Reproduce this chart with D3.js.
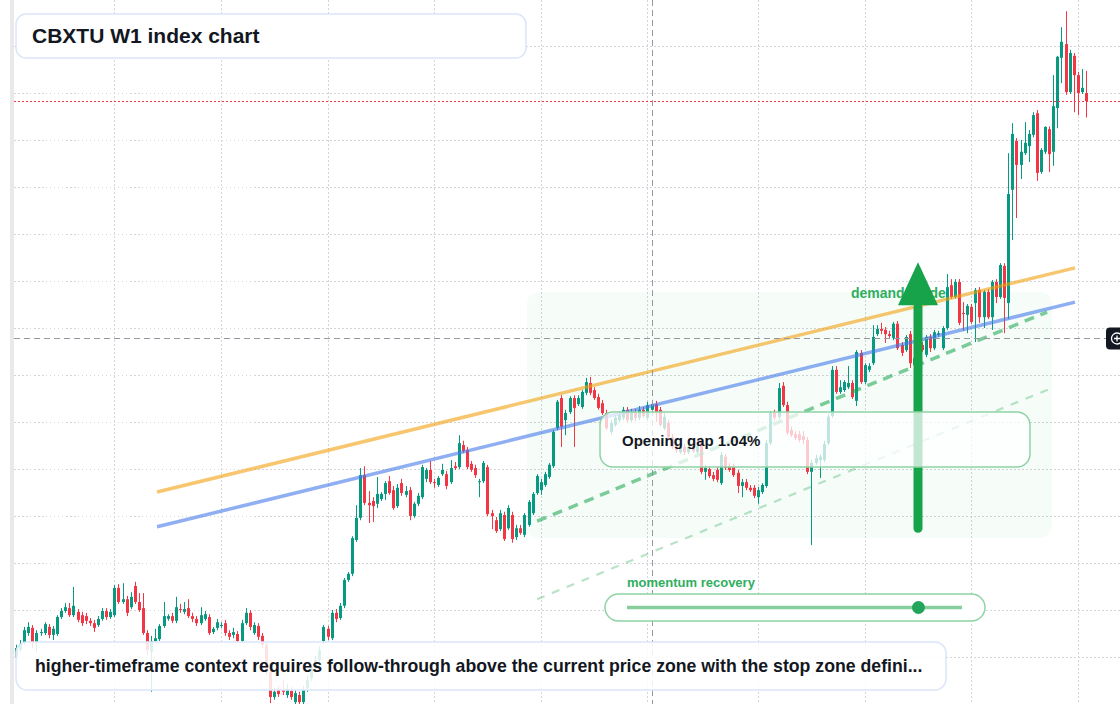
<!DOCTYPE html>
<html>
<head>
<meta charset="utf-8">
<script src="https://cdn.jsdelivr.net/npm/d3@7"></script>
<style>
html, body { margin: 0; padding: 0; background: #fff; overflow: hidden; }
svg { display: block; font-family: "Liberation Sans", Arial, Helvetica, sans-serif; }
</style>
</head>
<body>
<div id="chart"></div>
<script>
// weekly candles, index points
var candleOpen = [
10.0,11.5,13.2,15.1,16.2,13.2,15.1,15.1,16.4,14.7, 14.9,18.5,19.8,20.4,18.9,19.6,18.9,18.7,17.7,17.2,
16.8,18.1,19.8,18.5,18.9,24.7,21.7,22.3,20.6,25.1, 21.7,20.4,15.1,11.1,13.4,13.8,16.6,18.1,18.7,17.7,
20.2,19.6,20.4,18.7,18.1,17.2,18.1,18.5,15.3,16.2, 16.6,17.2,15.1,14.7,14.9,13.4,17.2,19.4,15.1,16.6,
14.5,12.6,6.8,1.5,3.0,3.0,1.9,2.8,0.4,1.9, 0.4,3.4,5.5,7.7,9.4,13.4,16.0,14.0,19.4,18.3,
20.9,26.4,27.7,34.9,39.6,48.7,42.8,43.2,42.6,43.6, 44.7,47.4,45.5,42.1,47.0,44.5,45.5,40.0,42.6,44.0,
47.9,49.8,47.2,46.6,48.9,48.9,47.2,50.6,50.4,55.1, 54.0,51.1,50.2,47.2,47.4,50.4,40.6,39.1,37.2,40.2,
37.4,40.2,35.5,37.4,36.0,38.1,40.6,44.9,45.5,46.6, 48.3,50.6,58.7,65.1,60.4,62.1,65.1,63.8,63.2,66.2,
68.3,66.8,65.3,64.0,61.9,57.9,59.4,60.4,60.9,62.6, 60.4,62.1,60.9,62.6,60.9,62.6,63.8,62.6,58.7,59.8,
56.8,55.1,53.6,54.7,53.6,54.9,53.6,56.2,49.4,50.0, 48.7,49.8,47.0,52.6,50.6,50.4,49.2,46.4,47.2,46.0,
46.0,44.0,45.1,46.4,55.5,61.9,61.1,67.7,63.6,58.3, 57.4,57.4,57.0,56.2,49.4,51.3,51.9,51.9,55.5,61.3,
71.1,66.4,66.8,67.4,68.3,64.5,74.7,68.5,71.1,72.5, 78.7,79.8,79.6,78.7,77.9,80.9,76.4,75.3,78.7,72.1,
73.6,76.4,74.3,78.1,75.7,78.5,75.7,80.0,89.1,86.6, 89.8,83.2,82.8,84.5,85.3,88.1,82.3,87.7,82.3,89.8,
86.6,93.2,85.3,109.4,119.8,114.7,117.2,118.7,121.1,125.7, 113.2,117.5,122.3,117.5,126.8,137.5,140.4,130.2,137.9,133.8,
130.2,130.0
];
var candleHigh = [
12.6,13.6,16.4,17.4,16.8,15.7,16.0,17.4,17.0,16.6, 18.9,20.4,21.5,21.5,24.9,20.2,19.6,19.4,18.3,17.9,
18.7,20.4,20.4,20.2,25.3,25.5,25.7,23.0,23.8,26.0, 23.6,23.6,15.7,14.5,16.0,17.0,21.7,19.1,19.4,22.8,
21.3,21.7,22.3,19.4,18.7,20.6,19.8,19.1,16.4,18.1, 17.4,17.9,15.7,16.2,15.5,17.9,20.4,20.0,17.4,17.2,
15.1,13.2,7.7,3.4,3.8,5.1,4.3,3.6,3.0,2.6, 3.8,6.0,8.5,10.2,12.3,16.8,16.6,20.0,20.2,21.5,
26.8,28.1,35.7,42.3,50.2,50.6,45.3,44.0,48.3,45.1, 47.4,48.5,46.4,46.8,47.9,46.4,46.2,43.0,44.9,50.9,
50.2,51.7,47.9,48.5,51.1,49.6,51.9,51.5,57.2,56.0, 54.7,51.7,50.9,47.9,51.7,50.9,41.3,39.8,41.3,40.9,
42.3,40.9,38.1,38.1,40.6,43.4,45.1,48.9,47.9,49.4, 51.3,58.3,64.7,65.7,62.6,65.5,65.7,65.7,66.8,69.4,
69.6,67.4,66.0,64.7,62.6,60.4,61.5,62.1,63.2,63.2, 62.8,62.8,63.4,63.2,64.3,64.7,64.5,63.2,61.9,60.4,
57.4,55.7,55.3,55.3,55.5,55.5,55.7,56.8,50.9,50.6, 49.4,50.4,53.6,53.2,51.3,51.1,49.8,47.9,47.9,46.6,
46.6,46.2,47.0,56.2,62.3,62.6,68.3,68.5,64.3,59.0, 58.1,58.1,58.1,56.8,51.9,53.0,53.2,56.0,61.7,71.9,
71.9,68.9,68.9,71.9,68.9,75.3,75.3,72.5,72.5,80.6, 80.6,81.1,80.2,79.4,81.3,81.5,77.0,78.5,79.4,74.3,
76.8,77.0,78.5,78.7,79.6,79.4,80.4,91.5,90.4,90.4, 90.4,85.5,85.1,85.1,88.5,88.7,88.1,88.3,90.2,90.4,
93.8,93.8,117.2,123.6,120.4,120.0,123.8,122.1,125.9,126.4, 118.3,122.9,122.9,133.8,137.9,144.0,147.4,139.2,138.5,134.5,
135.1,134.7
];
var candleLow = [
9.4,11.1,12.6,14.5,11.9,11.1,14.5,14.7,14.0,13.6, 14.5,18.1,19.4,18.5,18.5,17.4,16.6,17.0,16.6,15.3,
16.4,17.7,17.9,18.1,18.5,21.3,21.3,18.7,20.2,21.3, 19.6,14.7,10.4,2.6,13.0,13.4,16.2,17.7,17.2,17.2,
19.4,19.1,18.3,17.4,16.6,16.8,17.7,14.7,14.9,15.7, 16.2,14.5,13.6,14.0,13.0,13.0,16.8,15.7,14.7,13.6,
11.9,6.2,0.2,0.9,1.5,1.9,1.3,0.9,0.0,0.0, 0.0,2.6,4.9,7.0,8.7,12.8,13.6,13.6,17.4,17.9,
20.4,26.0,27.2,34.5,39.1,42.3,38.5,38.7,41.7,43.2, 43.4,44.5,41.3,41.7,44.3,44.0,39.1,39.6,42.1,43.6,
47.2,46.8,46.0,46.2,48.5,45.7,46.8,49.8,50.0,53.4, 50.0,49.4,48.1,44.0,47.0,40.0,37.2,36.4,36.8,34.7,
37.0,34.3,34.9,36.0,35.5,37.7,40.2,44.5,44.5,46.2, 47.9,50.2,58.3,54.7,57.2,61.7,54.7,63.4,62.8,65.7,
65.7,64.7,62.6,61.5,58.3,57.4,59.0,60.0,60.4,59.8, 60.0,60.2,60.4,60.9,60.4,62.1,60.0,59.0,58.3,56.2,
54.3,53.4,53.2,53.0,53.2,53.4,53.2,48.9,47.7,48.1, 47.4,47.2,46.6,49.8,49.4,48.3,44.9,44.0,45.5,45.1,
43.8,42.6,44.7,46.0,55.1,60.4,60.6,63.2,57.2,56.8, 56.2,55.7,55.3,48.9,33.8,50.9,48.1,51.5,55.1,60.9,
66.0,66.0,66.4,67.0,64.9,63.4,68.1,68.1,70.6,72.1, 78.3,78.7,76.8,77.9,77.4,75.3,74.0,74.9,71.5,71.7,
73.2,74.9,73.8,74.9,75.3,78.1,75.3,79.6,86.2,86.2, 80.6,79.4,78.9,80.9,77.0,81.1,80.0,81.9,79.6,85.3,
86.2,78.9,81.9,98.7,103.4,111.7,116.8,115.3,120.6,111.3, 112.8,117.0,113.2,114.5,122.5,132.1,129.6,129.8,125.9,125.3,
129.8,124.8
];
var candleClose = [
11.9,12.8,15.7,16.4,13.2,15.1,15.3,17.0,14.7,16.0, 18.5,19.8,20.6,18.9,20.9,17.9,17.2,17.7,17.2,16.2,
18.1,19.8,18.5,19.6,24.7,21.7,22.3,19.4,22.8,21.7, 20.0,15.1,11.5,13.4,14.0,16.6,18.7,18.7,17.7,20.6,
20.0,20.2,18.7,18.1,17.2,18.9,19.1,15.1,16.0,17.4, 16.8,15.1,14.3,15.3,13.4,17.2,19.4,16.4,16.8,14.3,
12.6,6.8,1.5,2.6,2.1,2.6,3.0,1.5,2.3,0.4, 3.0,5.1,7.9,9.4,11.5,16.4,14.3,19.4,18.1,20.9,
26.4,27.7,35.3,39.6,48.7,42.8,42.3,42.1,44.7,44.7, 47.0,44.9,41.7,46.0,44.9,45.3,40.0,42.6,44.3,50.4,
49.8,47.2,47.0,48.1,49.8,46.4,50.2,50.2,55.5,53.8, 50.4,49.8,48.7,47.4,51.3,40.4,40.0,36.8,40.6,35.1,
41.7,35.1,37.4,36.4,40.2,43.0,44.7,48.5,47.2,48.9, 50.9,57.9,64.3,59.0,61.9,65.1,63.0,65.1,66.4,68.5,
66.2,65.1,63.0,61.9,58.7,59.8,60.9,61.5,62.6,60.4, 62.1,60.9,62.6,61.3,63.6,63.8,62.1,59.4,61.1,56.8,
54.7,54.0,54.7,53.6,54.7,53.8,54.9,49.4,50.2,48.5, 47.9,47.7,53.0,50.2,49.8,48.7,46.4,47.2,46.0,45.5,
44.3,45.5,46.6,55.5,61.9,60.9,67.2,63.6,57.7,57.2, 56.6,56.2,56.2,49.4,51.3,52.3,52.6,55.3,61.1,71.1,
66.4,67.4,68.5,68.3,65.3,74.9,68.5,72.1,71.9,78.1, 79.8,79.4,78.7,78.3,80.9,75.7,74.7,78.1,72.5,73.6,
76.4,75.3,78.1,75.7,79.1,78.9,80.0,88.7,86.6,89.8, 81.1,83.0,84.7,81.3,88.1,82.3,87.7,82.3,89.8,86.6,
93.4,86.4,108.5,121.3,114.7,117.5,119.4,121.3,125.3,113.0, 117.9,122.8,117.0,127.2,137.7,140.9,130.2,138.5,133.8,130.0,
131.1,128.3
];

var gridPrices = [10, 20, 30, 40, 50, 60, 70, 80, 90, 100, 110, 120, 130, 140];
var gridWeeks = [24, 50, 76, 102, 128, 154, 181, 207, 233, 259];

// drawings, [week index, price]
var resistanceLine = [[34.4, 45.1], [258.3, 92.8]];
var supportLine = [[34.4, 37.7], [258.3, 85.5]];
var channelMid = [[127.1, 38.9], [251.5, 83.4]];
var channelLow = [[127.1, 22.3], [252.0, 67.0]];
var demandZone = [124.6, 252.7, 35.3, 87.7]; // from, to, bottom, top
var targetArrow = [220, 37.4, 94.0];          // week, from price, to price
var crossWeek = 155;
var crossPrice = 77.9;
var momentumValue = 0.87;

var titleText = "CBXTU W1 index chart";
var gapText = "Opening gap 1.04%";
var zoneText = "demand guide";
var momentumText = "momentum recovery";
var noteText = "higher-timeframe context requires follow-through above the current price zone with the stop zone defini...";

var W = 1120, H = 704;
var upColor = "#089981", downColor = "#f23645";

var x = d3.scaleLinear().domain([0, 261]).range([16, 1086.1]);
var y = d3.scaleLinear().domain([0, 150]).range([704, -1]);

var svg = d3.select("#chart").append("svg").attr("width", W).attr("height", H);

svg.append("rect").attr("width", W).attr("height", H).attr("fill", "#ffffff");
svg.append("rect").attr("x", 10).attr("y", 0).attr("width", 4).attr("height", H).attr("fill", "#e9e9ea");

// grid
var grid = svg.append("g").attr("stroke", "#d3d5da").attr("stroke-width", 1)
    .attr("stroke-dasharray", "1.5 2.5").attr("shape-rendering", "crispEdges");
grid.selectAll("line.h").data(gridPrices).enter().append("line")
    .attr("x1", 14).attr("x2", W)
    .attr("y1", function(d){ return Math.round(y(d)) + 0.5; })
    .attr("y2", function(d){ return Math.round(y(d)) + 0.5; });
grid.selectAll("line.v").data(gridWeeks).enter().append("line")
    .attr("y1", 0).attr("y2", H)
    .attr("x1", function(d){ return Math.round(x(d)) + 0.5; })
    .attr("x2", function(d){ return Math.round(x(d)) + 0.5; });

// demand zone
svg.append("rect")
    .attr("x", x(demandZone[0])).attr("y", y(demandZone[3]))
    .attr("width", x(demandZone[1]) - x(demandZone[0]))
    .attr("height", y(demandZone[2]) - y(demandZone[3]))
    .attr("rx", 12)
    .attr("fill", "rgba(34,197,94,0.04)");

// candles
var candles = candleOpen.map(function(o, i){
    return { i: i, o: o, h: candleHigh[i], l: candleLow[i], c: candleClose[i] };
});
var cg = svg.append("g");
cg.selectAll("line").data(candles).enter().append("line")
    .attr("x1", function(d){ return Math.round(x(d.i)) + 0.5; })
    .attr("x2", function(d){ return Math.round(x(d.i)) + 0.5; })
    .attr("y1", function(d){ return y(Math.max(d.h, d.o, d.c)); })
    .attr("y2", function(d){ return y(Math.min(d.l, d.o, d.c)); })
    .attr("stroke", function(d){ return d.c >= d.o ? upColor : downColor; })
    .attr("stroke-width", 1);
cg.selectAll("rect").data(candles).enter().append("rect")
    .attr("x", function(d){ return Math.round(x(d.i)) - 1; })
    .attr("width", 3)
    .attr("y", function(d){ return y(Math.max(d.o, d.c)); })
    .attr("height", function(d){ return Math.max(1, Math.abs(y(d.o) - y(d.c))); })
    .attr("fill", function(d){ return d.c >= d.o ? upColor : downColor; });

// trend lines
var line = d3.line().x(function(d){ return x(d[0]); }).y(function(d){ return y(d[1]); });
svg.append("path").attr("d", line(resistanceLine)).attr("fill", "none")
    .attr("stroke", "#f2a00d").attr("stroke-opacity", 0.6).attr("stroke-width", 3.5);
svg.append("path").attr("d", line(supportLine)).attr("fill", "none")
    .attr("stroke", "#447ae9").attr("stroke-opacity", 0.6).attr("stroke-width", 3.5);
svg.append("path").attr("d", line(channelMid)).attr("fill", "none")
    .attr("stroke", "#16a34a").attr("stroke-opacity", 0.55).attr("stroke-width", 3.5)
    .attr("stroke-dasharray", "10 7");
svg.append("path").attr("d", line(channelLow)).attr("fill", "none")
    .attr("stroke", "#16a34a").attr("stroke-opacity", 0.3).attr("stroke-width", 2.2)
    .attr("stroke-dasharray", "8 8");

// last price
var lastY = Math.round(y(candleClose[candleClose.length - 1])) + 0.5;
svg.append("line").attr("x1", 14).attr("x2", W).attr("y1", lastY).attr("y2", lastY)
    .attr("stroke", "#f23645").attr("stroke-width", 1).attr("stroke-dasharray", "2 2")
    .attr("shape-rendering", "crispEdges");

// crosshair
var cx = Math.round(x(crossWeek)) + 0.5, cy = Math.round(y(crossPrice)) + 0.5;
svg.append("line").attr("x1", cx).attr("x2", cx).attr("y1", 0).attr("y2", H)
    .attr("stroke", "#9598a1").attr("stroke-dasharray", "6 4");
svg.append("line").attr("x1", 14).attr("x2", 1106).attr("y1", cy).attr("y2", cy)
    .attr("stroke", "#9598a1").attr("stroke-dasharray", "6 4");

// zone label + arrow
svg.append("text").attr("x", 851).attr("y", 298).text(zoneText)
    .attr("font-size", 14).attr("font-weight", "bold").attr("fill", "#2fae5e");

var ax = x(targetArrow[0]);
var tipY = y(targetArrow[2]), headBase = tipY + 43;
svg.append("line").attr("x1", ax).attr("x2", ax)
    .attr("y1", y(targetArrow[1])).attr("y2", headBase + 2)
    .attr("stroke", "#16a34a").attr("stroke-width", 9).attr("stroke-linecap", "round");
svg.append("path")
    .attr("d", "M" + (ax - 20) + "," + headBase + "L" + ax + "," + tipY + "L" + (ax + 20) + "," + headBase + "Z")
    .attr("fill", "#16a34a");

// opening gap box
svg.append("rect").attr("x", 600).attr("y", 412).attr("width", 430).attr("height", 55).attr("rx", 13)
    .attr("fill", "#ffffff").attr("fill-opacity", 0.74)
    .attr("stroke", "#8fd3a4").attr("stroke-width", 1.5);
svg.append("text").attr("x", 622).attr("y", 446).text(gapText)
    .attr("font-size", 15).attr("font-weight", "bold").attr("fill", "#131722");

// momentum slider
var slide = d3.scaleLinear().domain([0, 1]).range([627, 962]);
svg.append("text").attr("x", 627).attr("y", 587).text(momentumText)
    .attr("font-size", 13).attr("font-weight", "bold").attr("fill", "#2fae5e");
svg.append("rect").attr("x", 605).attr("y", 594).attr("width", 380).attr("height", 27).attr("rx", 13.5)
    .attr("fill", "#ffffff").attr("stroke", "#8fd3a4").attr("stroke-width", 1.5);
svg.append("line").attr("x1", slide(0)).attr("x2", slide(1)).attr("y1", 607.5).attr("y2", 607.5)
    .attr("stroke", "#86cf9c").attr("stroke-width", 3.5);
svg.append("circle").attr("cx", slide(momentumValue)).attr("cy", 607.5).attr("r", 6.5)
    .attr("fill", "#22a55a");

// title
svg.append("rect").attr("x", 16).attr("y", 14).attr("width", 510).attr("height", 44).attr("rx", 10)
    .attr("fill", "#ffffff").attr("stroke", "#dbe6fa").attr("stroke-width", 1.5);
svg.append("text").attr("x", 32).attr("y", 43).text(titleText)
    .attr("font-size", 21).attr("font-weight", "bold").attr("fill", "#131722");

// note
svg.append("rect").attr("x", 16).attr("y", 642).attr("width", 930).attr("height", 48).attr("rx", 11)
    .attr("fill", "#ffffff").attr("fill-opacity", 0.86)
    .attr("stroke", "#dbe6fa").attr("stroke-width", 1.5);
svg.append("text").attr("x", 35).attr("y", 672).text(noteText)
    .attr("font-size", 17.7).attr("font-weight", "bold").attr("fill", "#131722");

// crosshair tag on the right
var tag = svg.append("g");
tag.append("rect").attr("x", 1106).attr("y", cy - 11).attr("width", 24).attr("height", 22).attr("rx", 4)
    .attr("fill", "#131722");
tag.append("circle").attr("cx", 1117).attr("cy", cy).attr("r", 5.5)
    .attr("fill", "none").attr("stroke", "#ffffff").attr("stroke-width", 1.3);
tag.append("path").attr("d", "M1114," + cy + "H1120M1117," + (cy - 3) + "V" + (cy + 3))
    .attr("stroke", "#ffffff").attr("stroke-width", 1.3);
</script>
</body>
</html>
